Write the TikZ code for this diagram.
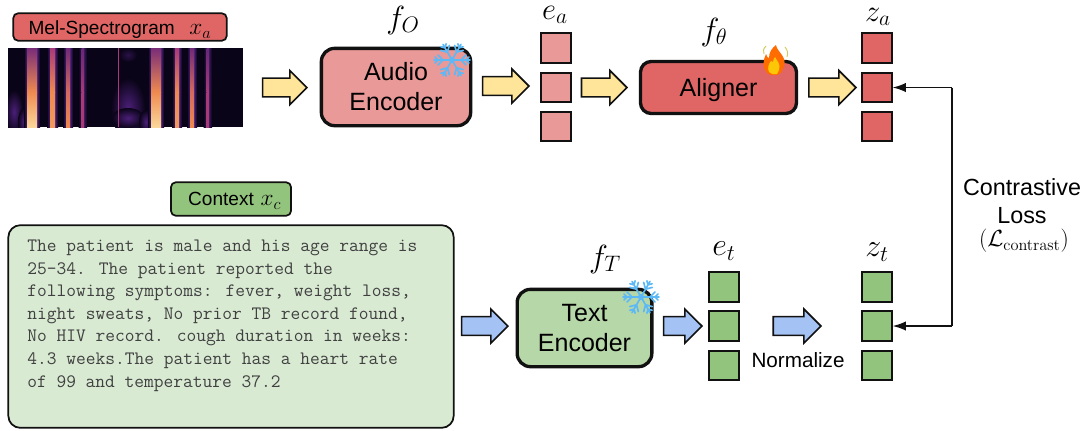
\documentclass[tikz,border=0pt]{standalone}
\usepackage{fix-cm}
\usepackage[no-math]{fontspec}
\setmainfont{Liberation Sans}
\usetikzlibrary{shapes.arrows,arrows.meta}
\definecolor{lineblk}{HTML}{111111}
\definecolor{redA}{HTML}{E06666}
\definecolor{redB}{HTML}{EA9999}
\definecolor{greenA}{HTML}{93C47D}
\definecolor{greenB}{HTML}{B6D7A8}
\definecolor{greenC}{HTML}{D9EAD3}
\definecolor{yellowA}{HTML}{FFE599}
\definecolor{blueA}{HTML}{A4C2F4}
\definecolor{flake}{HTML}{5DB9F6}
\definecolor{specbg}{HTML}{0A0418}
\definecolor{specP}{HTML}{4B1F78}
\definecolor{specM}{HTML}{A83A78}
\definecolor{specO}{HTML}{EE8A50}
\definecolor{specY}{HTML}{FBD79A}
\newcommand{\fs}[1]{\fontsize{#1}{#1}\selectfont}
\tikzset{
  sq/.style={draw=lineblk,line width=1.3pt,minimum size=22pt,inner sep=0pt,fill=#1},
  bigbox/.style={draw=lineblk,line width=2.5pt,rounded corners=10pt,fill=#1,inner sep=0pt,align=center,font=\fontsize{18.75}{22.5}\selectfont},
  tagbox/.style={draw=lineblk,line width=1.3pt,rounded corners=3.5pt,fill=#1,inner sep=0pt,font=\fs{14.3},text depth=0pt},
  blockarrow/.style={single arrow,draw=lineblk,line width=1.2pt,fill=#1,inner xsep=0pt,inner ysep=6.4pt,anchor=tip,
    single arrow head extend=5.8pt,single arrow head indent=0pt,minimum height=35pt,shape border rotate=0},
  mathlab/.style={inner sep=0pt,font=\fs{#1}},
  loss/.style={draw=lineblk,line width=1.2pt,-{Latex[length=10pt,width=7pt]}}
}
% x0 x1: inner band; #3 upper colour, #4 mid colour, #5 bottom colour, #6 glow colour
\newcommand{\band}[6]{%
  \shade[left color=specbg,right color=#6] (#1-3,48) rectangle (#1,127);
  \shade[left color=#6,right color=specbg] (#2,48) rectangle (#2+3,127);
  \shade[top color=#3,bottom color=#4] (#1,48) rectangle (#2,92);
  \shade[top color=#4,bottom color=#5] (#1,92) rectangle (#2,127);
}
\newcommand{\blob}[4]{\shade[inner color=specP,outer color=specbg] (#1,#2) ellipse ({#3} and {#4});}
\newcommand{\snow}[2]{%
  \begin{scope}[shift={(#1,#2)}]
    \foreach \a in {0,60,...,300}{
      \draw[flake,line width=1.25pt,rotate=\a,line cap=round]
        (0,0) -- (18,0) (9,0) -- (14,5) (9,0) -- (14,-5) (14,0) -- (17,3) (14,0) -- (17,-3);
    }
    \fill[flake] (0,0) circle (3);
  \end{scope}}
\begin{document}
\begin{tikzpicture}[x=0.75pt,y=-0.75pt]
\useasboundingbox (0,0) rectangle (1087,430);
% mel label and spectrogram
\node[tagbox=redA,text height=11.7pt,minimum width=160pt,minimum height=20.5pt] (mel) at (120,27) {Mel-Spectrogram\hspace{11pt}{\fs{17.5}$x_a$}};
\fill[specbg] (8,48) rectangle (243,127);
\begin{scope}
  \clip (8,48) rectangle (243,127);
  \blob{14}{112}{9}{22}
  \blob{24}{122}{6}{14}
  \blob{128}{108}{17}{30}
  \blob{128}{118}{16}{10}
  \blob{146}{122}{7}{12}
  \shade[inner color=specP!50!specbg,outer color=specbg] (128,55) ellipse (9 and 7);
  \fill[specM] (117.5,48) rectangle (118.6,127);
  \band{27}{37}{specP!50!specM}{specO}{specY}{specP}
  \band{50}{55}{specM}{specO}{specO!80!specY}{specP}
  \band{66}{70}{specP!60!specM}{specO!60!specM}{specO}{specP}
  \band{81.5}{84}{specP!70!specM}{specM}{specM}{specP!70!specbg}
  \band{151}{161}{specP!50!specM}{specO}{specY}{specP}
  \band{175}{179}{specM}{specO}{specO!80!specY}{specP}
  \band{190}{194}{specP!60!specM}{specO!60!specM}{specO}{specP}
  \band{206.5}{209}{specP!70!specM}{specM}{specM}{specP!70!specbg}
\end{scope}
% top row
\node[bigbox=redB,minimum width=112pt,minimum height=58pt] (audio) at (396,87) {Audio\\Encoder};
\snow{452}{60}
\node[mathlab=24] (fo) at (403,20) {$f_O$};
\node[blockarrow=yellowA,minimum height=33.2pt] (a1) at (308,87.5) {};
\node[blockarrow=yellowA,minimum height=34.7pt] (a2) at (530,86) {};
\foreach \n/\y in {1/48,2/87.5,3/126.5}{
  \node[sq=redB] (ea\n) at (556,\y) {};
  \node[sq=redA] (za\n) at (877,\y) {};
}
\node[mathlab=23] (ealab) at (555,15) {$e_a$};
\node[mathlab=23] (zalab) at (878,17) {$z_a$};
\node[blockarrow=yellowA,minimum height=34pt] (a3) at (628,87.5) {};
\node[bigbox=redA,text height=13.4pt,text depth=0pt,minimum width=117pt,minimum height=39pt,rounded corners=8pt] (aligner) at (718.5,87.5) {Aligner};
\node[mathlab=24] (ftheta) at (714,32) {$f_\theta$};
% flame
\begin{scope}[shift={(774,60)}]
  \fill[orange!85!red] (2,-15) .. controls (3,-8) and (13,-4) .. (10,6) .. controls (9,9) and (8,11) .. (7,13) .. controls (4,16) and (-4,16) .. (-7,13)
     .. controls (-12,8) and (-11,0) .. (-8,-6) .. controls (-7,-3) and (-6,-2) .. (-5,-2) .. controls (-5,-8) and (-2,-12) .. cycle;
  \fill[yellow!60!orange] (1,-3) .. controls (3,1) and (7,4) .. (5,10) .. controls (4,12) and (3.5,13) .. (3,14) .. controls (0,15) and (-3,14) .. (-5,12)
     .. controls (-7,8) and (-5,3) .. (-3,1) .. controls (-2,2) and (-2,2) .. (-1,2) .. controls (-1,0) and (0,-2) .. cycle;
  \draw[yellow!60!gray,line width=.7pt] (-8,-14) .. controls (-11,-11) and (-11,-9) .. (-10,-6) (11,-13) .. controls (14,-9) and (14,-7) .. (13,-3);
\end{scope}
\node[blockarrow=yellowA,minimum height=35.3pt] (a4) at (857,87.5) {};
% context
\node[tagbox=greenA,text height=10.2pt,minimum width=90pt,minimum height=25pt] (ctxlab) at (231,199) {\hspace*{5.5pt}Context\hspace{5pt}{\fs{17.5}$x_c$}};
\node[draw=lineblk,line width=1.3pt,rounded corners=9pt,fill=greenC,minimum width=334pt,minimum height=152pt,inner sep=0pt] (ctx) at (231,326.5) {};
\node[anchor=north west,inner sep=0pt,align=left,text=black!75,font=\fontsize{14.2}{16.9}\selectfont\ttfamily] (ctxtext) at (27,240) {The patient is male and his age range is\\25-34. The patient reported the\\following symptoms: fever, weight loss,\\night sweats, No prior TB record found,\\No HIV record. cough duration in weeks:\\4.3 weeks.The patient has a heart rate\\of 99 and temperature 37.2};
% bottom row
\node[blockarrow=blueA,minimum height=34.7pt] (b1) at (509,326) {};
\node[bigbox=greenB,minimum width=101pt,minimum height=58pt] (text) at (584.5,328) {Text\\Encoder};
\snow{641}{297}
\node[mathlab=24] (ft) at (605,259) {$f_T$};
\node[blockarrow=blueA,minimum height=28.7pt] (b2) at (703,326) {};
\foreach \n/\y in {1/287,2/326,3/365.5}{
  \node[sq=greenA] (et\n) at (724,\y) {};
  \node[sq=greenA] (zt\n) at (877,\y) {};
}
\node[mathlab=24] (etlab) at (724,251) {$e_t$};
\node[mathlab=24] (ztlab) at (877,252) {$z_t$};
\node[blockarrow=blueA,minimum height=35.7pt] (b3) at (822,326) {};
\node[inner sep=0pt,font=\fs{15.5}] (norm) at (798,360) {Normalize};
% contrastive
\coordinate (bendtop) at (952,87.5);
\coordinate (bendbot) at (952,326);
\draw[loss] (bendtop) -- (za2.east);
\draw[loss] (bendbot) -- (zt2.east);
\draw[draw=lineblk,line width=1.2pt] (bendtop) -- (bendbot);
\node[inner sep=0pt,align=center,font=\fontsize{17.5}{21}\selectfont] (closs) at (1022,201) {Contrastive\\Loss};
\node[inner sep=0pt,font=\fs{17.5}] (clossm) at (1024,241) {$(\mathcal{L}_{\mathrm{contrast}})$};
\end{tikzpicture}
\end{document}
